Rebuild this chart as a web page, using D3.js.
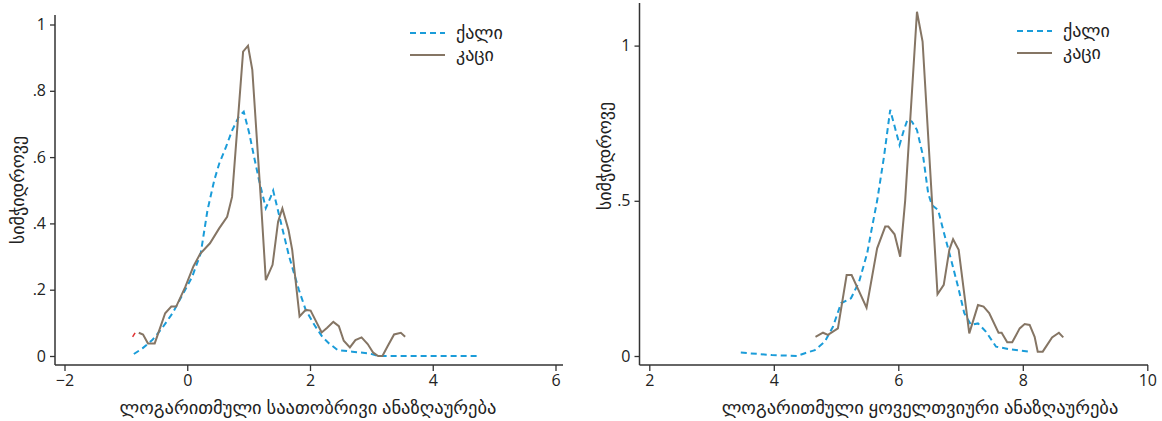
<!DOCTYPE html>
<html>
<head>
<meta charset="utf-8">
<script src="https://cdn.jsdelivr.net/npm/d3@7"></script>
<style>
  body { margin: 0; background: #fff; }
  text { font-family: "Open Sans", "DejaVu Sans", sans-serif; fill: #222; }
</style>
</head>
<body>
<div class="chart"></div>
<script>
// left panel: log hourly wage
var hourlyWomenX = [-0.87, -0.73, -0.57, -0.41, -0.24, -0.05, 0.08, 0.22, 0.33, 0.44, 0.52, 0.63, 0.73, 0.84, 0.92, 1.01, 1.09, 1.17, 1.28, 1.36, 1.40, 1.49, 1.66, 1.82, 1.93, 2.07, 2.20, 2.31, 2.45, 2.69, 2.96, 3.12, 4.73]
var hourlyWomenY = [0.006, 0.023, 0.048, 0.084, 0.129, 0.194, 0.239, 0.31, 0.44, 0.53, 0.58, 0.63, 0.68, 0.722, 0.737, 0.672, 0.60, 0.53, 0.446, 0.48, 0.499, 0.43, 0.30, 0.199, 0.139, 0.094, 0.058, 0.038, 0.018, 0.013, 0.008, 0.0, 0.0]
var hourlyMenX = [-0.79, -0.72, -0.64, -0.53, -0.36, -0.26, -0.18, -0.03, 0.10, 0.21, 0.37, 0.52, 0.65, 0.73, 0.91, 0.99, 1.06, 1.20, 1.28, 1.39, 1.48, 1.55, 1.65, 1.71, 1.83, 1.93, 2.01, 2.19, 2.28, 2.38, 2.47, 2.55, 2.65, 2.74, 2.84, 2.94, 3.03, 3.11, 3.18, 3.26, 3.37, 3.48, 3.55]
var hourlyMenY = [0.070, 0.065, 0.038, 0.038, 0.129, 0.149, 0.149, 0.209, 0.27, 0.308, 0.34, 0.385, 0.42, 0.48, 0.918, 0.936, 0.863, 0.47, 0.229, 0.275, 0.405, 0.445, 0.38, 0.32, 0.119, 0.139, 0.137, 0.071, 0.085, 0.103, 0.09, 0.046, 0.026, 0.048, 0.056, 0.036, 0.010, 0.0, 0.0, 0.028, 0.065, 0.070, 0.058]
var hourlyStrayX = [-0.89, -0.85]
var hourlyStrayY = [0.058, 0.070]

// right panel: log monthly wage
var monthlyWomenX = [3.47, 3.97, 4.37, 4.50, 4.66, 4.82, 4.95, 5.08, 5.24, 5.37, 5.50, 5.58, 5.66, 5.77, 5.87, 5.95, 6.02, 6.09, 6.15, 6.22, 6.30, 6.40, 6.48, 6.54, 6.64, 6.75, 6.85, 6.96, 7.06, 7.17, 7.28, 7.41, 7.57, 7.78, 8.10]
var monthlyWomenY = [0.011, 0.003, 0.0, 0.009, 0.019, 0.046, 0.094, 0.17, 0.186, 0.239, 0.331, 0.417, 0.50, 0.642, 0.793, 0.733, 0.68, 0.728, 0.763, 0.755, 0.728, 0.642, 0.524, 0.486, 0.47, 0.384, 0.309, 0.223, 0.138, 0.10, 0.105, 0.078, 0.030, 0.022, 0.014]
var monthlyMenX = [4.67, 4.79, 4.87, 5.03, 5.17, 5.25, 5.49, 5.66, 5.79, 5.84, 5.94, 6.03, 6.11, 6.30, 6.39, 6.63, 6.73, 6.82, 6.88, 6.97, 7.14, 7.28, 7.37, 7.46, 7.61, 7.66, 7.75, 7.83, 7.95, 8.03, 8.11, 8.19, 8.24, 8.32, 8.47, 8.58, 8.65]
var monthlyMenY = [0.062, 0.075, 0.068, 0.089, 0.261, 0.261, 0.156, 0.347, 0.417, 0.417, 0.392, 0.32, 0.50, 1.109, 1.013, 0.199, 0.229, 0.342, 0.376, 0.342, 0.073, 0.164, 0.159, 0.138, 0.075, 0.075, 0.044, 0.044, 0.089, 0.103, 0.100, 0.062, 0.014, 0.014, 0.060, 0.075, 0.060]

var legendLabels = ['ქალი', 'კაცი']
var yTitle = 'სიმჭიდროვე'
var xTitles = ['ლოგარითმული საათობრივი ანაზღაურება', 'ლოგარითმული ყოველთვიური ანაზღაურება']
var leftXTicks = [-2, 0, 2, 4, 6]
var leftYTicks = [0, 0.2, 0.4, 0.6, 0.8, 1]
var rightXTicks = [2, 4, 6, 8, 10]
var rightYTicks = [0, 0.5, 1]

var blue = '#1a9cd9'
var brown = '#857564'

var svg = d3.select('.chart')
  .append('svg')
    .attr('width', 1162)
    .attr('height', 421)

function fmtY(d) {
  if (d === 0) return '0'
  if (d === 1) return '1'
  return String(d).replace(/^0/, '')
}

function panel(opt) {
  var g = svg.append('g')
  var x = d3.scaleLinear().domain(opt.xDomain).range(opt.xRange)
  var y = d3.scaleLinear().domain([0, 1]).range(opt.yRange)

  // axes: ticks from d3, frame lines drawn by hand so they can overhang
  var xAxis = d3.axisBottom(x).tickValues(opt.xTicks).tickSize(6).tickPadding(4)
  var gx = g.append('g').attr('transform', `translate(0, ${opt.axisY})`).call(xAxis)
  gx.select('.domain').remove()
  gx.selectAll('text').attr('font-size', 16).attr('fill', '#222')
  gx.selectAll('line').attr('stroke', '#333').attr('stroke-width', 1.3)

  var yAxis = d3.axisLeft(y).tickValues(opt.yTicks).tickFormat(fmtY).tickSize(5).tickPadding(4)
  var gy = g.append('g').attr('transform', `translate(${opt.axisX}, 0)`).call(yAxis)
  gy.select('.domain').remove()
  gy.selectAll('text').attr('font-size', 16).attr('fill', '#222')
  gy.selectAll('line').attr('stroke', '#333').attr('stroke-width', 1.3)

  g.append('line')
    .attr('x1', opt.axisX).attr('x2', opt.axisX)
    .attr('y1', opt.axisTop).attr('y2', opt.axisY)
    .attr('stroke', '#333').attr('stroke-width', 1.5)
  g.append('line')
    .attr('x1', opt.axisX).attr('x2', opt.axisRight)
    .attr('y1', opt.axisY).attr('y2', opt.axisY)
    .attr('stroke', '#333').attr('stroke-width', 1.5)

  var line = d3.line().x(d => x(d[0])).y(d => y(d[1]))

  opt.series.forEach(function (s) {
    g.append('path')
      .datum(d3.zip(s.xs, s.ys))
      .attr('d', line)
      .attr('fill', 'none')
      .attr('stroke', s.color)
      .attr('stroke-width', s.width || 2)
      .attr('stroke-dasharray', s.dash || null)
      .attr('stroke-linejoin', 'miter')
  })

  // legend
  var lg = g.append('g').attr('transform', `translate(${opt.legend[0]}, ${opt.legend[1]})`)
  legendLabels.forEach(function (lab, i) {
    lg.append('line')
      .attr('x1', 0).attr('x2', 35)
      .attr('y1', i * 22).attr('y2', i * 22)
      .attr('stroke', i === 0 ? blue : brown)
      .attr('stroke-width', 2)
      .attr('stroke-dasharray', i === 0 ? '6,4' : null)
    lg.append('text')
      .attr('x', 46).attr('y', i * 22)
      .attr('dy', '0.35em')
      .attr('font-size', 18)
      .text(lab)
  })

  g.append('text')
    .attr('x', opt.xTitlePos[0]).attr('y', opt.xTitlePos[1])
    .attr('text-anchor', 'middle')
    .attr('font-size', 18.5)
    .text(opt.xTitle)

  g.append('text')
    .attr('transform', `translate(${opt.yTitlePos[0]}, ${opt.yTitlePos[1]}) rotate(-90)`)
    .attr('text-anchor', 'middle')
    .attr('dy', '0.35em')
    .attr('font-size', 18)
    .text(yTitle)
}

panel({
  xDomain: [-2, 6], xRange: [64.5, 555.5],
  yRange: [356, 24.5],
  xTicks: leftXTicks, yTicks: leftYTicks,
  axisX: 55, axisY: 365, axisTop: 15, axisRight: 563,
  legend: [410, 33],
  xTitlePos: [308, 414], yTitlePos: [18, 190],
  xTitle: xTitles[0],
  series: [
    { xs: hourlyWomenX, ys: hourlyWomenY, color: blue, dash: '6,4' },
    { xs: hourlyMenX, ys: hourlyMenY, color: brown },
    { xs: hourlyStrayX, ys: hourlyStrayY, color: '#e03030', width: 1.5 }
  ]
})

panel({
  xDomain: [2, 10], xRange: [649.3, 1147.3],
  yRange: [356, 45.6],
  xTicks: rightXTicks, yTicks: rightYTicks,
  axisX: 639.5, axisY: 365, axisTop: 3, axisRight: 1148,
  legend: [1017, 31],
  xTitlePos: [920, 414], yTitlePos: [605, 156],
  xTitle: xTitles[1],
  series: [
    { xs: monthlyWomenX, ys: monthlyWomenY, color: blue, dash: '6,4' },
    { xs: monthlyMenX, ys: monthlyMenY, color: brown }
  ]
})
</script>
</body>
</html>
